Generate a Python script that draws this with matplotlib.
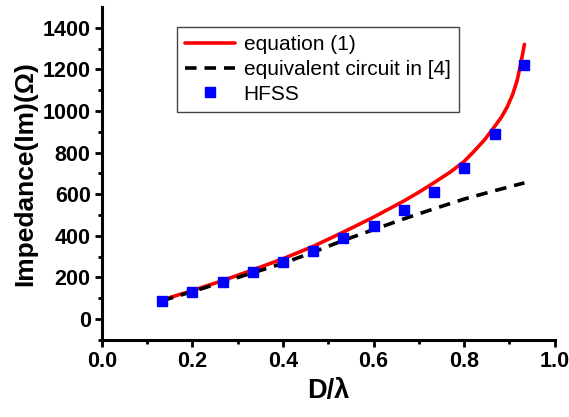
import matplotlib
matplotlib.use('Agg')
import matplotlib.pyplot as plt

plt.rcParams['font.family'] = ['Liberation Sans', 'DejaVu Sans']

# HFSS simulation points
x_hfss = [0.133, 0.2, 0.267, 0.333, 0.4, 0.467, 0.533, 0.6, 0.667, 0.733, 0.8, 0.867, 0.933]
y_hfss = [88, 130, 176, 225, 272, 328, 389, 448, 524, 612, 724, 892, 1220]

# equation (1), read densely along the curve
x_eq = [0.133, 0.2, 0.267, 0.333, 0.4, 0.467, 0.533, 0.6, 0.667, 0.7, 0.733, 0.77,
        0.8, 0.821, 0.845, 0.866, 0.882, 0.895, 0.907, 0.917, 0.925, 0.933]
y_eq = [92, 137, 185, 236, 290, 350, 418, 490, 568, 610, 655, 708,
        758, 805, 862, 922, 970, 1020, 1080, 1148, 1229, 1321]

# equivalent circuit in [4]
x_ckt = [0.133, 0.2, 0.267, 0.333, 0.4, 0.467, 0.533, 0.6, 0.667, 0.733, 0.8, 0.867, 0.933]
y_ckt = [88, 132, 178, 222, 268, 322, 378, 430, 482, 530, 577, 617, 655]

fig = plt.figure(figsize=(5.69, 4.17), dpi=100)
ax = fig.add_axes([0.179, 0.185, 0.796, 0.798])

ax.plot(x_eq, y_eq, color='red', lw=2.6, label='equation (1)', solid_capstyle='round')
ax.plot(x_ckt, y_ckt, color='black', lw=2.6, ls=(0, (3.2, 2.2)), label='equivalent circuit in [4]')
ax.plot(x_hfss, y_hfss, 's', color='blue', ms=7, mec='blue', ls='none', label='HFSS')

ax.set_xlim(0, 1.0)
ax.set_ylim(-100, 1500)
ax.set_xticks([0.0, 0.2, 0.4, 0.6, 0.8, 1.0])
ax.set_xticks([0.1, 0.3, 0.5, 0.7, 0.9], minor=True)
ax.set_yticks(range(0, 1401, 200))
ax.set_yticks(range(-100, 1500, 200), minor=True)
ax.xaxis.set_major_formatter(matplotlib.ticker.FormatStrFormatter('%.1f'))

for s in ['top', 'right']:
    ax.spines[s].set_visible(False)
for s in ['left', 'bottom']:
    ax.spines[s].set_linewidth(2.2)
ax.tick_params(which='major', length=5, width=2, labelsize=15.5, direction='out', pad=3)
ax.tick_params(which='minor', length=3, width=2, direction='out')
for lab in ax.get_xticklabels() + ax.get_yticklabels():
    lab.set_fontweight('bold')

ax.set_xlabel('D/λ', fontsize=19.5, fontweight='bold', labelpad=4)
ax.set_ylabel('Impedance(Im)(Ω)', fontsize=19, fontweight='bold', labelpad=4)

leg = ax.legend(loc='upper left', bbox_to_anchor=(0.166, 0.94), borderaxespad=0,
                fontsize=15, fancybox=False, edgecolor='#444444', framealpha=1,
                handlelength=2.4, handletextpad=0.4, labelspacing=0.27,
                borderpad=0.4)
leg.get_frame().set_linewidth(1)

fig.savefig('out.png', dpi=100)
